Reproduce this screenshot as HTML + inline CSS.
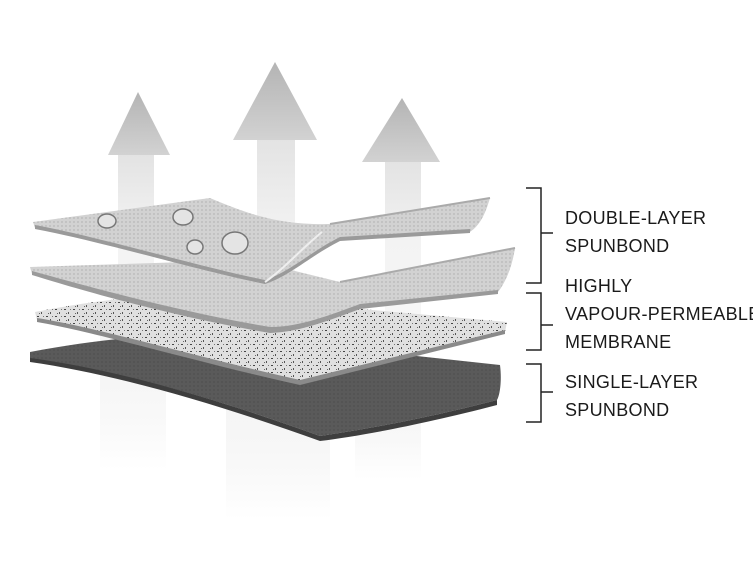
<!DOCTYPE html>
<html><head><style>
html,body{margin:0;padding:0;background:#fff;width:753px;height:566px;overflow:hidden}
svg{position:absolute;left:0;top:0}
.t{position:absolute;left:565px;font-family:"Liberation Sans",sans-serif;font-size:18px;letter-spacing:0.3px;color:#1a1a1a;line-height:28px;white-space:nowrap}
</style></head><body>
<svg width="753" height="566" viewBox="0 0 753 566">
<defs>
<linearGradient id="st" x1="0" y1="0" x2="0" y2="1">
<stop offset="0" stop-color="#dcdcdc"/><stop offset="0.25" stop-color="#f0f0f0"/><stop offset="1" stop-color="#fff"/>
</linearGradient>
<linearGradient id="lo" x1="0" y1="0" x2="0" y2="1">
<stop offset="0" stop-color="#f3f3f3"/><stop offset="0.6" stop-color="#f8f8f8"/><stop offset="1" stop-color="#fff"/>
</linearGradient>
<linearGradient id="ar" x1="0" y1="0" x2="0" y2="1">
<stop offset="0" stop-color="#b4b4b4"/><stop offset="1" stop-color="#d2d2d2"/>
</linearGradient>
<pattern id="dots" width="4" height="4" patternUnits="userSpaceOnUse">
<rect width="4" height="4" fill="#d2d2d2"/><circle cx="2" cy="2" r="0.9" fill="#b8b8b8"/>
</pattern>
<pattern id="spk" width="9" height="7" patternUnits="userSpaceOnUse">
<rect width="9" height="7" fill="#e0e0e0"/><rect x="1" y="1" width="2" height="1" fill="#444"/><rect x="5" y="4" width="1" height="2" fill="#555"/><rect x="7" y="1" width="1" height="1" fill="#777"/><rect x="3" y="5" width="1" height="1" fill="#666"/>
</pattern>
<pattern id="dk" width="4" height="4" patternUnits="userSpaceOnUse">
<rect width="4" height="4" fill="#5a5a5a"/><circle cx="2" cy="2" r="0.9" fill="#505050"/>
</pattern>
</defs>
<rect x="118" y="155" width="36" height="320" fill="url(#st)" opacity="0.8"/>
<rect x="257" y="140" width="38" height="380" fill="url(#st)" opacity="0.8"/>
<rect x="385" y="162" width="36" height="320" fill="url(#st)" opacity="0.8"/>
<rect x="100" y="330" width="66" height="140" fill="url(#lo)"/>
<rect x="226" y="380" width="104" height="140" fill="url(#lo)"/>
<rect x="355" y="380" width="66" height="100" fill="url(#lo)"/>
<polygon points="138,92 170,155 108,155" fill="url(#ar)"/>
<polygon points="275,62 317,140 233,140" fill="url(#ar)"/>
<polygon points="402,98 440,162 362,162" fill="url(#ar)"/>
<path d="M30,352 C120,335 200,330 270,340 L500,365 C502,380 500,395 497,400 C420,420 360,430 320,436 C220,400 120,370 30,360 Z" fill="url(#dk)"/>
<path d="M30,358 C120,370 220,400 320,436 C360,430 420,420 497,400 L497,405 C420,425 360,436 320,441 C220,405 120,375 30,362 Z" fill="#3e3e3e"/>
<path d="M35,312 C120,295 200,290 260,300 L507,322 L505,332 L300,382 C200,360 100,330 37,320 Z" fill="url(#spk)"/>
<path d="M37,318 C100,328 200,358 300,380 L505,330 L505,334 L300,385 C200,363 100,333 37,322 Z" fill="#8a8a8a"/>
<path d="M30,267 L250,260 L340,282 L515,248 C512,268 505,283 498,292 L360,307 C330,318 300,330 270,330 C180,315 90,290 32,274 Z" fill="url(#dots)"/>
<path d="M32,271 C90,287 180,312 270,327 C300,327 330,315 360,304 L498,290 L498,294 L360,309 C330,320 300,332 270,333 C180,318 90,293 32,275 Z" fill="#9a9a9a"/>
<path d="M340,282 L515,248" stroke="#aaa" stroke-width="2"/>
<path d="M33,222 L210,198 C250,215 280,225 330,224 L490,198 C485,215 480,225 470,232 L340,240 C310,255 290,275 265,283 C200,270 100,240 35,228 Z" fill="url(#dots)"/>
<path d="M35,225 C100,237 200,267 265,280 C290,272 310,252 340,237 L470,229 L470,233 L340,241 C310,256 290,276 265,284 C200,271 100,241 35,229 Z" fill="#9a9a9a"/>
<path d="M322,232 C300,250 285,268 265,282" stroke="#eee" stroke-width="2" fill="none"/>
<path d="M330,224 L490,198" stroke="#aaa" stroke-width="2"/>
<g fill="#e4e4e4" stroke="#777" stroke-width="1.5">
<ellipse cx="107" cy="221" rx="9" ry="7"/>
<ellipse cx="183" cy="217" rx="10" ry="8"/>
<ellipse cx="195" cy="247" rx="8" ry="7"/>
<ellipse cx="235" cy="243" rx="13" ry="11"/>
</g>
<g stroke="#222" stroke-width="1.5" fill="none">
<path d="M526,188 H541 V283 H526 M541,233 H553"/>
<path d="M526,293 H541 V350 H526 M541,325 H553"/>
<path d="M526,364 H541 V422 H526 M541,392 H553"/>
</g>
</svg>
<div class="t" style="top:204px">DOUBLE-LAYER<br>SPUNBOND</div>
<div class="t" style="top:272px">HIGHLY<br>VAPOUR-PERMEABLE<br>MEMBRANE</div>
<div class="t" style="top:368px">SINGLE-LAYER<br>SPUNBOND</div>
</body></html>
